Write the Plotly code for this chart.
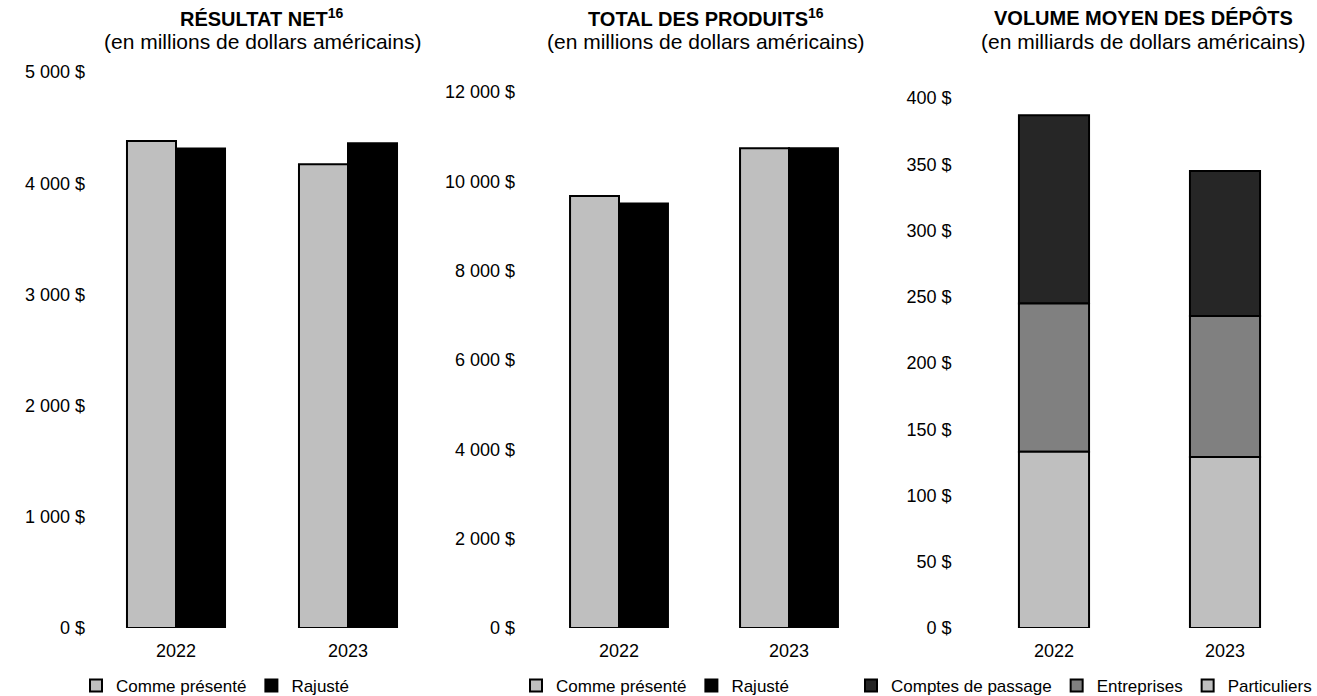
import plotly.graph_objects as go

# Data
years = ["2022", "2023"]

net_reported = [4380, 4170]
net_adjusted = [4312, 4360]

rev_reported = [9670, 10740]
rev_adjusted = [9505, 10740]

dep_particuliers = [133, 129]
dep_entreprises = [112, 106.5]
dep_comptes = [142, 109.5]

net_ticks = [0, 1000, 2000, 3000, 4000, 5000]
net_ticktext = ["0 $", "1 000 $", "2 000 $", "3 000 $", "4 000 $", "5 000 $"]
rev_ticks = [0, 2000, 4000, 6000, 8000, 10000, 12000]
rev_ticktext = ["0 $", "2 000 $", "4 000 $", "6 000 $", "8 000 $", "10 000 $", "12 000 $"]
dep_ticks = [0, 50, 100, 150, 200, 250, 300, 350, 400]
dep_ticktext = ["0 $", "50 $", "100 $", "150 $", "200 $", "250 $", "300 $", "350 $", "400 $"]

W, H = 1317, 696
FONT = "Liberation Sans, Arial, sans-serif"
LIGHT = "#BFBFBF"
MID = "#808080"
DARK = "#262626"
BLACK = "#000000"
OUTLINE = dict(color=BLACK, width=2)


def px_x(a, b):
    return [a / W, b / W]


def px_y(top, bottom):
    return [1 - bottom / H, 1 - top / H]


fig = go.Figure()

# Panel 1 : résultat net (grouped bars)
gw1 = 0.285
fig.add_trace(go.Bar(x=years, y=net_reported, name="Comme présenté", xaxis="x", yaxis="y",
                     width=gw1, offset=-gw1, marker=dict(color=LIGHT, line=OUTLINE),
                     legend="legend"))
fig.add_trace(go.Bar(x=years, y=net_adjusted, name="Rajusté", xaxis="x", yaxis="y",
                     width=gw1, offset=0, marker=dict(color=BLACK, line=OUTLINE),
                     legend="legend"))

# Panel 2 : total des produits (grouped bars)
gw2 = 0.288
fig.add_trace(go.Bar(x=years, y=rev_reported, name="Comme présenté", xaxis="x2", yaxis="y2",
                     width=gw2, offset=-gw2, marker=dict(color=LIGHT, line=OUTLINE),
                     legend="legend2"))
fig.add_trace(go.Bar(x=years, y=rev_adjusted, name="Rajusté", xaxis="x2", yaxis="y2",
                     width=gw2, offset=0, marker=dict(color=BLACK, line=OUTLINE),
                     legend="legend2"))

# Panel 3 : volume moyen des dépôts (stacked via base)
gw3 = 0.41
base_ent = dep_particuliers
base_cpt = [p + e for p, e in zip(dep_particuliers, dep_entreprises)]
fig.add_trace(go.Bar(x=years, y=dep_comptes, base=base_cpt, name="Comptes de passage",
                     xaxis="x3", yaxis="y3", width=gw3, offset=-gw3 / 2,
                     marker=dict(color=DARK, line=OUTLINE), legend="legend3"))
fig.add_trace(go.Bar(x=years, y=dep_entreprises, base=base_ent, name="Entreprises",
                     xaxis="x3", yaxis="y3", width=gw3, offset=-gw3 / 2,
                     marker=dict(color=MID, line=OUTLINE), legend="legend3"))
fig.add_trace(go.Bar(x=years, y=dep_particuliers, name="Particuliers",
                     xaxis="x3", yaxis="y3", width=gw3, offset=-gw3 / 2,
                     marker=dict(color=LIGHT, line=OUTLINE), legend="legend3"))

xcommon = dict(type="category", range=[-0.5, 1.5], showline=False, showgrid=False,
               zeroline=False, ticks="", tickfont=dict(size=18, color="#000"),
               automargin=False, ticklabelstandoff=10)
ycommon = dict(showline=False, showgrid=False, zeroline=False, ticks="",
               tickfont=dict(size=18, color="#000"), automargin=False)

# Margins are fixed (autoexpand off), so the legends can sit at the very bottom
legend_common = dict(orientation="h", yanchor="middle", y=1 - 686 / H,
                     font=dict(size=17, color="#000", family=FONT), itemwidth=30,
                     bgcolor="rgba(0,0,0,0)", tracegroupgap=0, traceorder="normal")

fig.update_layout(
    width=W, height=H,
    margin=dict(l=0, r=0, t=0, b=0, autoexpand=False),
    paper_bgcolor="white", plot_bgcolor="white",
    font=dict(family=FONT, color="#000"),
    barmode="overlay",
    xaxis=dict(domain=px_x(90, 434), anchor="y", **xcommon),
    yaxis=dict(domain=px_y(72, 628), anchor="x", range=[0, 5000],
               tickvals=net_ticks, ticktext=net_ticktext, ticklabelstandoff=4, **ycommon),
    xaxis2=dict(domain=px_x(534, 874), anchor="y2", **xcommon),
    yaxis2=dict(domain=px_y(92, 628), anchor="x2", range=[0, 12000],
                tickvals=rev_ticks, ticktext=rev_ticktext, ticklabelstandoff=18, **ycommon),
    xaxis3=dict(domain=px_x(968.5, 1310.5), anchor="y3", **xcommon),
    yaxis3=dict(domain=px_y(98, 628), anchor="x3", range=[0, 400],
                tickvals=dep_ticks, ticktext=dep_ticktext, ticklabelstandoff=16, **ycommon),
    legend=dict(x=76 / W, xanchor="left", **legend_common),
    legend2=dict(x=516 / W, xanchor="left", **legend_common),
    legend3=dict(x=1.0, xanchor="right", **legend_common),
)

titles = [
    (262, "<b>RÉSULTAT NET<sup>16</sup></b>", "(en millions de dollars américains)"),
    (706, "<b>TOTAL DES PRODUITS<sup>16</sup></b>", "(en millions de dollars américains)"),
    (1143, "<b>VOLUME MOYEN DES DÉPÔTS</b>", "(en milliards de dollars américains)"),
]
for cx, t, sub in titles:
    fig.add_annotation(x=cx / W, y=1 - 18 / H, xref="paper", yref="paper", text=t,
                       showarrow=False, xanchor="center", yanchor="middle",
                       font=dict(size=20, color="#000", family=FONT))
    fig.add_annotation(x=cx / W, y=1 - 42 / H, xref="paper", yref="paper", text=sub,
                       showarrow=False, xanchor="center", yanchor="middle",
                       font=dict(size=21, color="#000", family=FONT))

fig.write_html("out.html")
